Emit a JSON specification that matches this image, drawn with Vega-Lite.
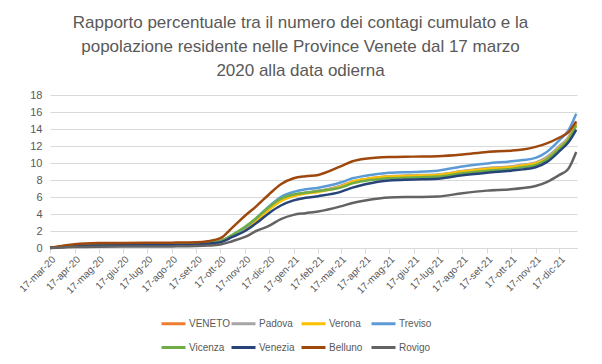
{
"$schema": "https://vega.github.io/schema/vega-lite/v6.json",
"width": 527, "height": 153,
"autosize": {"type": "none"},
"padding": {"left": 50, "top": 95, "right": 25, "bottom": 116},
"background": "white",
"title": {"text": ["Rapporto percentuale tra il numero dei contagi cumulato e la", "popolazione residente nelle Province Venete dal 17 marzo", "2020 alla data odierna"], "anchor": "middle", "frame": "group", "fontSize": 17, "font": "Liberation Sans", "fontWeight": "normal", "color": "#595959", "lineHeight": 24, "offset": 9, "dx": -13},
"config": {
  "font": "Liberation Sans",
  "view": {"stroke": null},
  "locale": {"time": {"dateTime": "%A %e %B %Y, %X", "date": "%d/%m/%Y", "time": "%H:%M:%S", "periods": ["AM", "PM"], "days": ["domenica", "lunedì", "martedì", "mercoledì", "giovedì", "venerdì", "sabato"], "shortDays": ["dom", "lun", "mar", "mer", "gio", "ven", "sab"], "months": ["gennaio", "febbraio", "marzo", "aprile", "maggio", "giugno", "luglio", "agosto", "settembre", "ottobre", "novembre", "dicembre"], "shortMonths": ["gen", "feb", "mar", "apr", "mag", "giu", "lug", "ago", "set", "ott", "nov", "dic"]}}
},
"data": {"values": [
{"d":"2020/03/17","s":"VENETO","v":0.02},{"d":"2020/04/01","s":"VENETO","v":0.15},{"d":"2020/04/17","s":"VENETO","v":0.28},{"d":"2020/05/17","s":"VENETO","v":0.37},{"d":"2020/06/17","s":"VENETO","v":0.39},{"d":"2020/07/17","s":"VENETO","v":0.40},{"d":"2020/08/17","s":"VENETO","v":0.43},{"d":"2020/09/17","s":"VENETO","v":0.50},{"d":"2020/10/01","s":"VENETO","v":0.58},{"d":"2020/10/17","s":"VENETO","v":0.80},{"d":"2020/11/01","s":"VENETO","v":1.45},{"d":"2020/11/17","s":"VENETO","v":2.30},{"d":"2020/12/01","s":"VENETO","v":3.30},{"d":"2020/12/17","s":"VENETO","v":4.60},{"d":"2021/01/01","s":"VENETO","v":5.60},{"d":"2021/01/17","s":"VENETO","v":6.20},{"d":"2021/02/01","s":"VENETO","v":6.50},{"d":"2021/02/17","s":"VENETO","v":6.70},{"d":"2021/03/17","s":"VENETO","v":7.30},{"d":"2021/04/01","s":"VENETO","v":7.80},{"d":"2021/04/17","s":"VENETO","v":8.10},{"d":"2021/05/17","s":"VENETO","v":8.40},{"d":"2021/06/17","s":"VENETO","v":8.50},{"d":"2021/07/17","s":"VENETO","v":8.60},{"d":"2021/08/17","s":"VENETO","v":9.00},{"d":"2021/09/17","s":"VENETO","v":9.35},{"d":"2021/10/17","s":"VENETO","v":9.55},{"d":"2021/11/01","s":"VENETO","v":9.75},{"d":"2021/11/17","s":"VENETO","v":10.00},{"d":"2021/12/01","s":"VENETO","v":10.60},{"d":"2021/12/17","s":"VENETO","v":11.90},{"d":"2021/12/28","s":"VENETO","v":12.90},{"d":"2022/01/07","s":"VENETO","v":14.60},
{"d":"2020/03/17","s":"Padova","v":0.03},{"d":"2020/04/01","s":"Padova","v":0.17},{"d":"2020/04/17","s":"Padova","v":0.30},{"d":"2020/05/17","s":"Padova","v":0.38},{"d":"2020/06/17","s":"Padova","v":0.40},{"d":"2020/07/17","s":"Padova","v":0.41},{"d":"2020/08/17","s":"Padova","v":0.44},{"d":"2020/09/17","s":"Padova","v":0.51},{"d":"2020/10/01","s":"Padova","v":0.60},{"d":"2020/10/17","s":"Padova","v":0.82},{"d":"2020/11/01","s":"Padova","v":1.45},{"d":"2020/11/17","s":"Padova","v":2.30},{"d":"2020/12/01","s":"Padova","v":3.30},{"d":"2020/12/17","s":"Padova","v":4.60},{"d":"2021/01/01","s":"Padova","v":5.60},{"d":"2021/01/17","s":"Padova","v":6.20},{"d":"2021/02/01","s":"Padova","v":6.50},{"d":"2021/02/17","s":"Padova","v":6.70},{"d":"2021/03/17","s":"Padova","v":7.30},{"d":"2021/04/01","s":"Padova","v":7.80},{"d":"2021/04/17","s":"Padova","v":8.10},{"d":"2021/05/17","s":"Padova","v":8.45},{"d":"2021/06/17","s":"Padova","v":8.55},{"d":"2021/07/17","s":"Padova","v":8.65},{"d":"2021/08/17","s":"Padova","v":9.05},{"d":"2021/09/17","s":"Padova","v":9.40},{"d":"2021/10/17","s":"Padova","v":9.60},{"d":"2021/11/01","s":"Padova","v":9.80},{"d":"2021/11/17","s":"Padova","v":10.05},{"d":"2021/12/01","s":"Padova","v":10.70},{"d":"2021/12/17","s":"Padova","v":12.00},{"d":"2021/12/28","s":"Padova","v":13.00},{"d":"2022/01/07","s":"Padova","v":14.80},
{"d":"2020/03/17","s":"Verona","v":0.02},{"d":"2020/04/01","s":"Verona","v":0.18},{"d":"2020/04/17","s":"Verona","v":0.33},{"d":"2020/05/17","s":"Verona","v":0.44},{"d":"2020/06/17","s":"Verona","v":0.46},{"d":"2020/07/17","s":"Verona","v":0.47},{"d":"2020/08/17","s":"Verona","v":0.50},{"d":"2020/09/17","s":"Verona","v":0.56},{"d":"2020/10/01","s":"Verona","v":0.63},{"d":"2020/10/17","s":"Verona","v":0.82},{"d":"2020/11/01","s":"Verona","v":1.40},{"d":"2020/11/17","s":"Verona","v":2.20},{"d":"2020/12/01","s":"Verona","v":3.20},{"d":"2020/12/17","s":"Verona","v":4.50},{"d":"2021/01/01","s":"Verona","v":5.50},{"d":"2021/01/17","s":"Verona","v":6.10},{"d":"2021/02/01","s":"Verona","v":6.40},{"d":"2021/02/17","s":"Verona","v":6.60},{"d":"2021/03/17","s":"Verona","v":7.20},{"d":"2021/04/01","s":"Verona","v":7.80},{"d":"2021/04/17","s":"Verona","v":8.10},{"d":"2021/05/17","s":"Verona","v":8.40},{"d":"2021/06/17","s":"Verona","v":8.50},{"d":"2021/07/17","s":"Verona","v":8.60},{"d":"2021/08/17","s":"Verona","v":9.00},{"d":"2021/09/17","s":"Verona","v":9.30},{"d":"2021/10/17","s":"Verona","v":9.50},{"d":"2021/11/01","s":"Verona","v":9.70},{"d":"2021/11/17","s":"Verona","v":9.95},{"d":"2021/12/01","s":"Verona","v":10.50},{"d":"2021/12/17","s":"Verona","v":11.80},{"d":"2021/12/28","s":"Verona","v":12.80},{"d":"2022/01/07","s":"Verona","v":14.50},
{"d":"2020/03/17","s":"Treviso","v":0.02},{"d":"2020/04/01","s":"Treviso","v":0.14},{"d":"2020/04/17","s":"Treviso","v":0.26},{"d":"2020/05/17","s":"Treviso","v":0.34},{"d":"2020/06/17","s":"Treviso","v":0.36},{"d":"2020/07/17","s":"Treviso","v":0.37},{"d":"2020/08/17","s":"Treviso","v":0.40},{"d":"2020/09/17","s":"Treviso","v":0.48},{"d":"2020/10/01","s":"Treviso","v":0.57},{"d":"2020/10/17","s":"Treviso","v":0.80},{"d":"2020/11/01","s":"Treviso","v":1.50},{"d":"2020/11/17","s":"Treviso","v":2.40},{"d":"2020/12/01","s":"Treviso","v":3.50},{"d":"2020/12/17","s":"Treviso","v":4.90},{"d":"2021/01/01","s":"Treviso","v":6.00},{"d":"2021/01/17","s":"Treviso","v":6.60},{"d":"2021/02/01","s":"Treviso","v":6.90},{"d":"2021/02/17","s":"Treviso","v":7.10},{"d":"2021/03/17","s":"Treviso","v":7.70},{"d":"2021/04/01","s":"Treviso","v":8.20},{"d":"2021/04/17","s":"Treviso","v":8.50},{"d":"2021/05/17","s":"Treviso","v":8.85},{"d":"2021/06/17","s":"Treviso","v":8.95},{"d":"2021/07/17","s":"Treviso","v":9.10},{"d":"2021/08/17","s":"Treviso","v":9.60},{"d":"2021/09/17","s":"Treviso","v":9.95},{"d":"2021/10/17","s":"Treviso","v":10.20},{"d":"2021/11/01","s":"Treviso","v":10.35},{"d":"2021/11/17","s":"Treviso","v":10.60},{"d":"2021/12/01","s":"Treviso","v":11.30},{"d":"2021/12/17","s":"Treviso","v":12.70},{"d":"2021/12/28","s":"Treviso","v":13.80},{"d":"2022/01/07","s":"Treviso","v":15.80},
{"d":"2020/03/17","s":"Vicenza","v":0.02},{"d":"2020/04/01","s":"Vicenza","v":0.13},{"d":"2020/04/17","s":"Vicenza","v":0.25},{"d":"2020/05/17","s":"Vicenza","v":0.33},{"d":"2020/06/17","s":"Vicenza","v":0.35},{"d":"2020/07/17","s":"Vicenza","v":0.36},{"d":"2020/08/17","s":"Vicenza","v":0.39},{"d":"2020/09/17","s":"Vicenza","v":0.46},{"d":"2020/10/01","s":"Vicenza","v":0.55},{"d":"2020/10/17","s":"Vicenza","v":0.80},{"d":"2020/11/01","s":"Vicenza","v":1.55},{"d":"2020/11/17","s":"Vicenza","v":2.50},{"d":"2020/12/01","s":"Vicenza","v":3.50},{"d":"2020/12/17","s":"Vicenza","v":4.80},{"d":"2021/01/01","s":"Vicenza","v":5.80},{"d":"2021/01/17","s":"Vicenza","v":6.30},{"d":"2021/02/01","s":"Vicenza","v":6.50},{"d":"2021/02/17","s":"Vicenza","v":6.70},{"d":"2021/03/17","s":"Vicenza","v":7.10},{"d":"2021/04/01","s":"Vicenza","v":7.60},{"d":"2021/04/17","s":"Vicenza","v":7.90},{"d":"2021/05/17","s":"Vicenza","v":8.20},{"d":"2021/06/17","s":"Vicenza","v":8.30},{"d":"2021/07/17","s":"Vicenza","v":8.40},{"d":"2021/08/17","s":"Vicenza","v":8.80},{"d":"2021/09/17","s":"Vicenza","v":9.10},{"d":"2021/10/17","s":"Vicenza","v":9.30},{"d":"2021/11/01","s":"Vicenza","v":9.50},{"d":"2021/11/17","s":"Vicenza","v":9.75},{"d":"2021/12/01","s":"Vicenza","v":10.40},{"d":"2021/12/17","s":"Vicenza","v":11.70},{"d":"2021/12/28","s":"Vicenza","v":12.70},{"d":"2022/01/07","s":"Vicenza","v":14.40},
{"d":"2020/03/17","s":"Venezia","v":0.01},{"d":"2020/04/01","s":"Venezia","v":0.12},{"d":"2020/04/17","s":"Venezia","v":0.22},{"d":"2020/05/17","s":"Venezia","v":0.30},{"d":"2020/06/17","s":"Venezia","v":0.31},{"d":"2020/07/17","s":"Venezia","v":0.32},{"d":"2020/08/17","s":"Venezia","v":0.35},{"d":"2020/09/17","s":"Venezia","v":0.42},{"d":"2020/10/01","s":"Venezia","v":0.50},{"d":"2020/10/17","s":"Venezia","v":0.68},{"d":"2020/11/01","s":"Venezia","v":1.30},{"d":"2020/11/17","s":"Venezia","v":2.00},{"d":"2020/12/01","s":"Venezia","v":2.90},{"d":"2020/12/17","s":"Venezia","v":4.10},{"d":"2021/01/01","s":"Venezia","v":5.00},{"d":"2021/01/17","s":"Venezia","v":5.60},{"d":"2021/02/01","s":"Venezia","v":5.90},{"d":"2021/02/17","s":"Venezia","v":6.10},{"d":"2021/03/17","s":"Venezia","v":6.60},{"d":"2021/04/01","s":"Venezia","v":7.10},{"d":"2021/04/17","s":"Venezia","v":7.50},{"d":"2021/05/17","s":"Venezia","v":7.95},{"d":"2021/06/17","s":"Venezia","v":8.05},{"d":"2021/07/17","s":"Venezia","v":8.15},{"d":"2021/08/17","s":"Venezia","v":8.55},{"d":"2021/09/17","s":"Venezia","v":8.85},{"d":"2021/10/17","s":"Venezia","v":9.10},{"d":"2021/11/01","s":"Venezia","v":9.25},{"d":"2021/11/17","s":"Venezia","v":9.50},{"d":"2021/12/01","s":"Venezia","v":10.10},{"d":"2021/12/17","s":"Venezia","v":11.40},{"d":"2021/12/28","s":"Venezia","v":12.40},{"d":"2022/01/07","s":"Venezia","v":13.90},
{"d":"2020/03/17","s":"Belluno","v":0.03},{"d":"2020/04/01","s":"Belluno","v":0.25},{"d":"2020/04/17","s":"Belluno","v":0.45},{"d":"2020/05/17","s":"Belluno","v":0.58},{"d":"2020/06/17","s":"Belluno","v":0.60},{"d":"2020/07/17","s":"Belluno","v":0.61},{"d":"2020/08/17","s":"Belluno","v":0.63},{"d":"2020/09/17","s":"Belluno","v":0.68},{"d":"2020/10/01","s":"Belluno","v":0.80},{"d":"2020/10/17","s":"Belluno","v":1.15},{"d":"2020/11/01","s":"Belluno","v":2.40},{"d":"2020/11/17","s":"Belluno","v":3.80},{"d":"2020/12/01","s":"Belluno","v":4.90},{"d":"2020/12/17","s":"Belluno","v":6.30},{"d":"2021/01/01","s":"Belluno","v":7.50},{"d":"2021/01/17","s":"Belluno","v":8.20},{"d":"2021/02/01","s":"Belluno","v":8.45},{"d":"2021/02/17","s":"Belluno","v":8.60},{"d":"2021/03/17","s":"Belluno","v":9.60},{"d":"2021/04/01","s":"Belluno","v":10.20},{"d":"2021/04/17","s":"Belluno","v":10.50},{"d":"2021/05/17","s":"Belluno","v":10.70},{"d":"2021/06/17","s":"Belluno","v":10.75},{"d":"2021/07/17","s":"Belluno","v":10.80},{"d":"2021/08/17","s":"Belluno","v":11.00},{"d":"2021/09/17","s":"Belluno","v":11.30},{"d":"2021/10/17","s":"Belluno","v":11.45},{"d":"2021/11/01","s":"Belluno","v":11.60},{"d":"2021/11/17","s":"Belluno","v":11.90},{"d":"2021/12/01","s":"Belluno","v":12.30},{"d":"2021/12/17","s":"Belluno","v":13.00},{"d":"2021/12/28","s":"Belluno","v":13.60},{"d":"2022/01/07","s":"Belluno","v":14.90},
{"d":"2020/03/17","s":"Rovigo","v":0.01},{"d":"2020/04/01","s":"Rovigo","v":0.06},{"d":"2020/04/17","s":"Rovigo","v":0.12},{"d":"2020/05/17","s":"Rovigo","v":0.16},{"d":"2020/06/17","s":"Rovigo","v":0.17},{"d":"2020/07/17","s":"Rovigo","v":0.17},{"d":"2020/08/17","s":"Rovigo","v":0.19},{"d":"2020/09/17","s":"Rovigo","v":0.23},{"d":"2020/10/01","s":"Rovigo","v":0.28},{"d":"2020/10/17","s":"Rovigo","v":0.40},{"d":"2020/11/01","s":"Rovigo","v":0.80},{"d":"2020/11/17","s":"Rovigo","v":1.30},{"d":"2020/12/01","s":"Rovigo","v":2.00},{"d":"2020/12/17","s":"Rovigo","v":2.60},{"d":"2021/01/01","s":"Rovigo","v":3.40},{"d":"2021/01/17","s":"Rovigo","v":3.90},{"d":"2021/02/01","s":"Rovigo","v":4.10},{"d":"2021/02/17","s":"Rovigo","v":4.30},{"d":"2021/03/17","s":"Rovigo","v":4.90},{"d":"2021/04/01","s":"Rovigo","v":5.30},{"d":"2021/04/17","s":"Rovigo","v":5.60},{"d":"2021/05/17","s":"Rovigo","v":5.95},{"d":"2021/06/17","s":"Rovigo","v":6.00},{"d":"2021/07/17","s":"Rovigo","v":6.05},{"d":"2021/08/17","s":"Rovigo","v":6.45},{"d":"2021/09/17","s":"Rovigo","v":6.75},{"d":"2021/10/17","s":"Rovigo","v":6.90},{"d":"2021/11/01","s":"Rovigo","v":7.05},{"d":"2021/11/17","s":"Rovigo","v":7.30},{"d":"2021/12/01","s":"Rovigo","v":7.75},{"d":"2021/12/17","s":"Rovigo","v":8.60},{"d":"2021/12/28","s":"Rovigo","v":9.30},{"d":"2022/01/07","s":"Rovigo","v":11.30}
]},
"mark": {"type": "line", "interpolate": "monotone", "strokeWidth": 2.5},
"encoding": {
  "x": {"field": "d", "type": "temporal",
    "scale": {"domain": [{"year": 2020, "month": 3, "date": 17}, {"year": 2022, "month": 1, "date": 8}]},
    "axis": {"title": null, "format": "%d-%b-%y", "labelAngle": -45, "labelAlign": "right", "labelBaseline": "top", "labelFontSize": 10, "labelColor": "#595959", "labelPadding": 1, "domainColor": "#D9D9D9", "tickColor": "#D9D9D9", "tickSize": 5, "grid": false, "labelOverlap": false, "labelFlush": false,
      "values": [{"year":2020,"month":3,"date":17},{"year":2020,"month":4,"date":17},{"year":2020,"month":5,"date":17},{"year":2020,"month":6,"date":17},{"year":2020,"month":7,"date":17},{"year":2020,"month":8,"date":17},{"year":2020,"month":9,"date":17},{"year":2020,"month":10,"date":17},{"year":2020,"month":11,"date":17},{"year":2020,"month":12,"date":17},{"year":2021,"month":1,"date":17},{"year":2021,"month":2,"date":17},{"year":2021,"month":3,"date":17},{"year":2021,"month":4,"date":17},{"year":2021,"month":5,"date":17},{"year":2021,"month":6,"date":17},{"year":2021,"month":7,"date":17},{"year":2021,"month":8,"date":17},{"year":2021,"month":9,"date":17},{"year":2021,"month":10,"date":17},{"year":2021,"month":11,"date":17},{"year":2021,"month":12,"date":17}]}},
  "y": {"field": "v", "type": "quantitative", "scale": {"domain": [0, 18]},
    "axis": {"title": null, "values": [0, 2, 4, 6, 8, 10, 12, 14, 16, 18], "labelFontSize": 11, "labelColor": "#595959", "labelPadding": 8, "domain": false, "ticks": false, "gridColor": "#D9D9D9", "gridWidth": 1}},
  "color": {"field": "s", "type": "nominal",
    "scale": {"domain": ["VENETO", "Padova", "Verona", "Treviso", "Vicenza", "Venezia", "Belluno", "Rovigo"], "range": ["#ED7D31", "#A5A5A5", "#FFC000", "#5B9BD5", "#70AD47", "#264478", "#9E480E", "#636363"]},
    "legend": {"title": null, "orient": "none", "legendX": 110, "legendY": 215, "direction": "horizontal", "columns": 4, "gridAlign": "all", "symbolType": "stroke", "symbolSize": 576, "symbolStrokeWidth": 3, "labelFontSize": 10, "labelColor": "#595959", "columnPadding": -8, "rowPadding": 4, "labelOffset": 2}}
}
}
